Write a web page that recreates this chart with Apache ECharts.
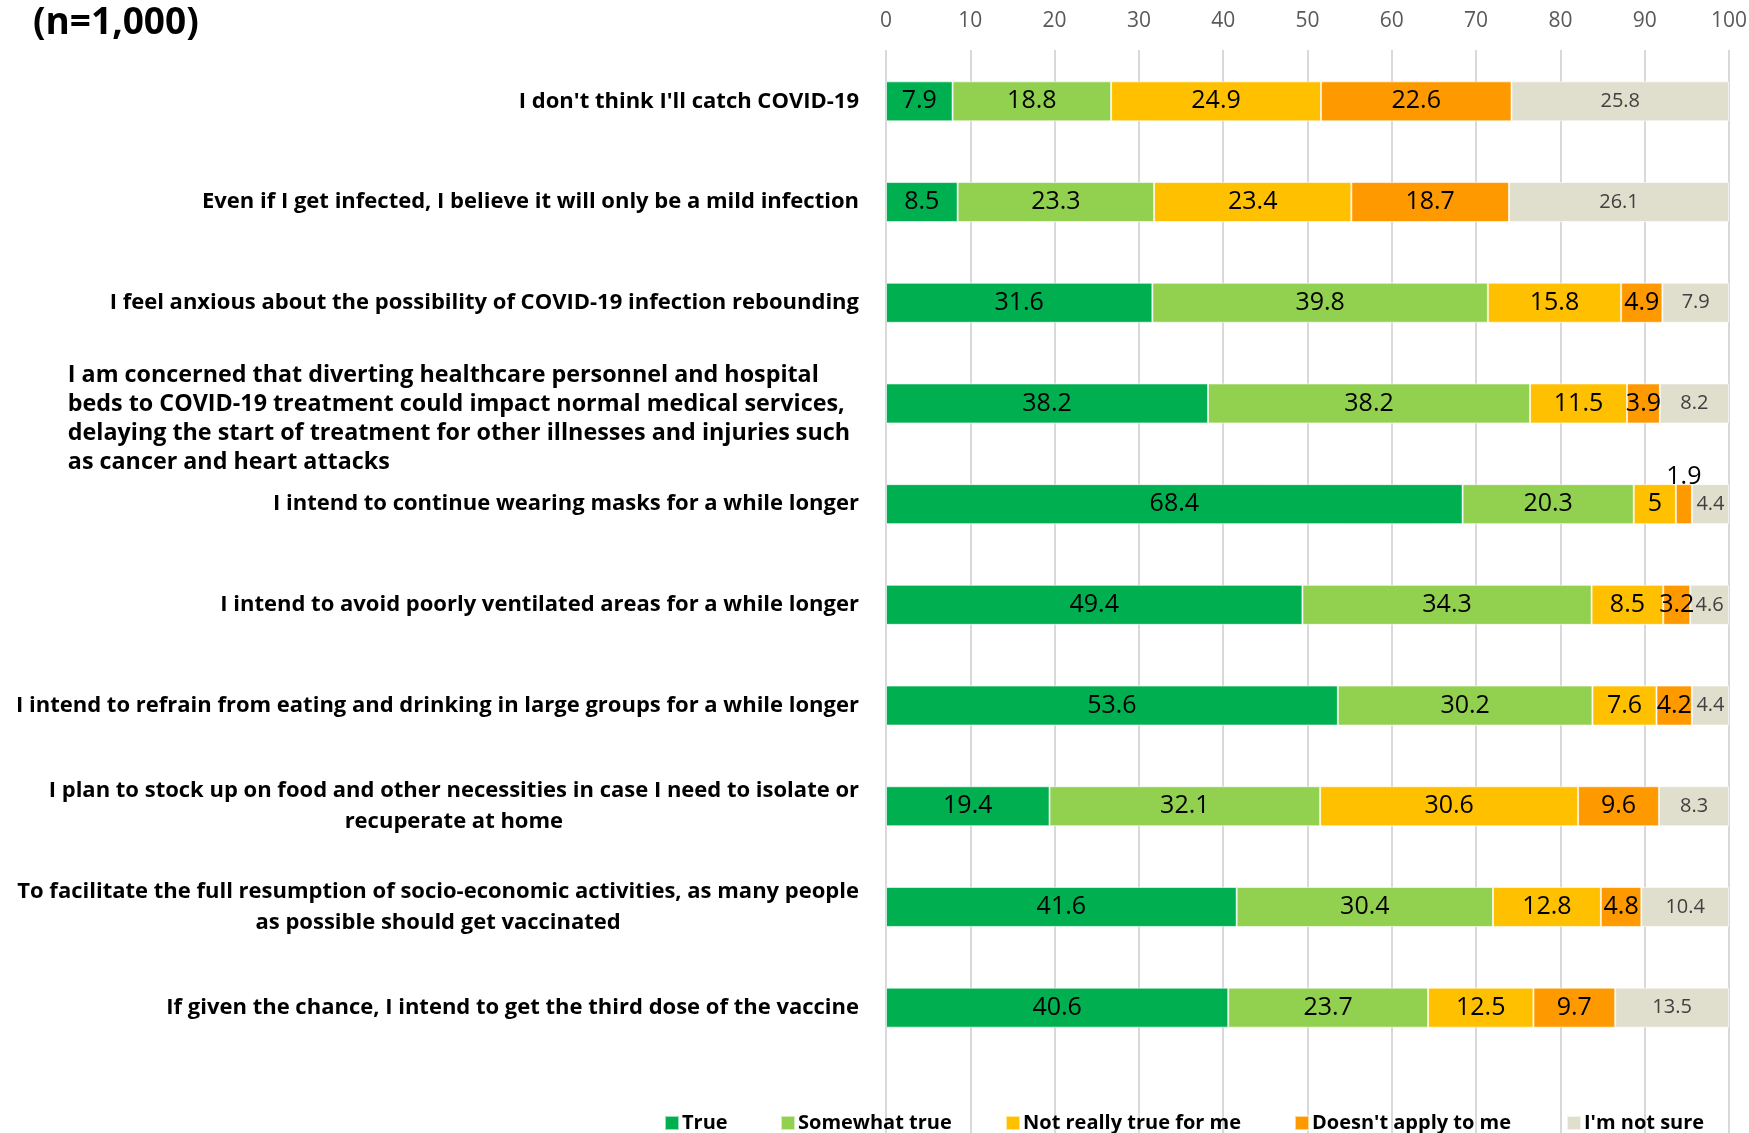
<!DOCTYPE html>
<html>
<head>
<meta charset="utf-8">
<script src="https://cdn.jsdelivr.net/npm/echarts@6/dist/echarts.min.js"></script>
<style>
html,body{margin:0;padding:0;background:#fff;}
#chart{width:1749px;height:1133px;}
</style>
</head>
<body>
<div id="chart"></div>
<script>
const categories = [
  "I don't think I'll catch COVID-19",
  "Even if I get infected, I believe it will only be a mild infection",
  "I feel anxious about the possibility of COVID-19 infection rebounding",
  "I am concerned that diverting healthcare personnel and hospital\nbeds to COVID-19 treatment could impact normal medical services,\ndelaying the start of treatment for other illnesses and injuries such\nas cancer and heart attacks",
  "I intend to continue wearing masks for a while longer",
  "I intend to avoid poorly ventilated areas for a while longer",
  "I intend to refrain from eating and drinking in large groups for a while longer",
  "I plan to stock up on food and other necessities in case I need to isolate or\nrecuperate at home",
  "To facilitate the full resumption of socio-economic activities, as many people\nas possible should get vaccinated",
  "If given the chance, I intend to get the third dose of the vaccine"
];
const seriesNames = ["True", "Somewhat true", "Not really true for me", "Doesn't apply to me", "I'm not sure"];
const trueVals =        [7.9, 8.5, 31.6, 38.2, 68.4, 49.4, 53.6, 19.4, 41.6, 40.6];
const somewhatVals =    [18.8, 23.3, 39.8, 38.2, 20.3, 34.3, 30.2, 32.1, 30.4, 23.7];
const notReallyVals =   [24.9, 23.4, 15.8, 11.5, 5, 8.5, 7.6, 30.6, 12.8, 12.5];
const doesntApplyVals = [22.6, 18.7, 4.9, 3.9, 1.9, 3.2, 4.2, 9.6, 4.8, 9.7];
const notSureVals =     [25.8, 26.1, 7.9, 8.2, 4.4, 4.6, 4.4, 8.3, 10.4, 13.5];
const xTicks = [0, 10, 20, 30, 40, 50, 60, 70, 80, 90, 100];

const FONT = "'Open Sans', 'Noto Sans', sans-serif";
const colors = ["#00b050", "#92d050", "#ffc000", "#ff9900", "#e0decd"];
const allVals = [trueVals, somewhatVals, notReallyVals, doesntApplyVals, notSureVals];

const chart = echarts.init(document.getElementById('chart'), null, {renderer: 'canvas'});

const GL = 886, GR = 20;

function catFormatter(v) {
  const lines = v.split('\n');
  if (lines.length === 4) {
    return '{sp| }\n' + lines.map(l => '{l|' + l + '}').join('\n');
  } else if (lines.length === 2) {
    return lines.map(l => '{c|' + l + '}').join('\n');
  }
  return '{s|' + v + '}';
}
const baseTxt = {fontFamily: FONT, fontSize: 22, fontWeight: 'bold', color: '#000'};

const series = seriesNames.map((name, si) => ({
  name: name,
  type: 'bar',
  stack: 'total',
  barWidth: 40,
  xAxisIndex: 0,
  yAxisIndex: 0,
  itemStyle: {color: colors[si], borderColor: 'rgba(255,255,255,0.6)', borderWidth: 1},
  label: {
    show: true,
    position: 'inside',
    fontFamily: FONT,
    fontSize: si === 4 ? 20 : 25,
    color: si === 4 ? '#404040' : '#000',
    formatter: p => String(p.value)
  },
  emphasis: {disabled: true},
  data: allVals[si].map((v, i) => {
    if (si === 3 && i === 4) {
      return {value: v, label: {position: 'top', distance: -5}};
    }
    return v;
  })
}));

const legendX = [664, 780, 1005, 1294, 1566];
const legends = seriesNames.map((n, i) => ({
  data: [n],
  left: legendX[i],
  top: 1113,
  itemWidth: 14,
  itemHeight: 14,
  icon: 'rect',
  padding: 0,
  itemGap: 0,
  textStyle: {fontFamily: FONT, fontSize: 20, fontWeight: 'bold', color: '#000', padding: [0, 0, 0, -2]}
}));

chart.setOption({
  animation: false,
  backgroundColor: '#fff',
  title: {
    text: '(n=1,000)',
    left: 33,
    top: 5,
    padding: 0,
    textStyle: {fontFamily: FONT, fontSize: 37, fontWeight: 'bold', color: '#000'}
  },
  legend: legends,
  grid: [
    {left: GL, right: GR, top: 51, height: 1007, containLabel: false, outerBoundsMode: 'none'},
    {left: GL, right: GR, top: 50, bottom: 0, containLabel: false, outerBoundsMode: 'none'}
  ],
  xAxis: [
    {
      type: 'value', gridIndex: 0, position: 'top', min: 0, max: 100, interval: 10,
      axisLine: {show: false}, axisTick: {show: false}, splitLine: {show: false},
      axisLabel: {fontFamily: FONT, fontSize: 21, color: '#595959', margin: 19,
        formatter: v => xTicks.includes(v) ? String(v) : ''}
    },
    {
      type: 'value', gridIndex: 1, min: 0, max: 100, interval: 10,
      axisLine: {show: false}, axisTick: {show: false}, axisLabel: {show: false},
      splitLine: {show: true, lineStyle: {color: '#d9d9d9', width: 2}}
    }
  ],
  yAxis: [
    {
      type: 'category', gridIndex: 0, inverse: true, data: categories,
      axisLine: {show: false}, axisTick: {show: false},
      axisLabel: {
        margin: 27,
        formatter: catFormatter,
        ...baseTxt,
        rich: {
          s: {...baseTxt},
          c: {...baseTxt, align: 'center', lineHeight: 31},
          l: {...baseTxt, fontSize: 23.3, align: 'left', lineHeight: 29, padding: [0, 9, 0, 0]},
          sp: {...baseTxt, fontSize: 10, lineHeight: 30}
        }
      }
    },
    {type: 'value', gridIndex: 1, show: false, min: 0, max: 1}
  ],
  series: series
});
</script>
</body>
</html>
